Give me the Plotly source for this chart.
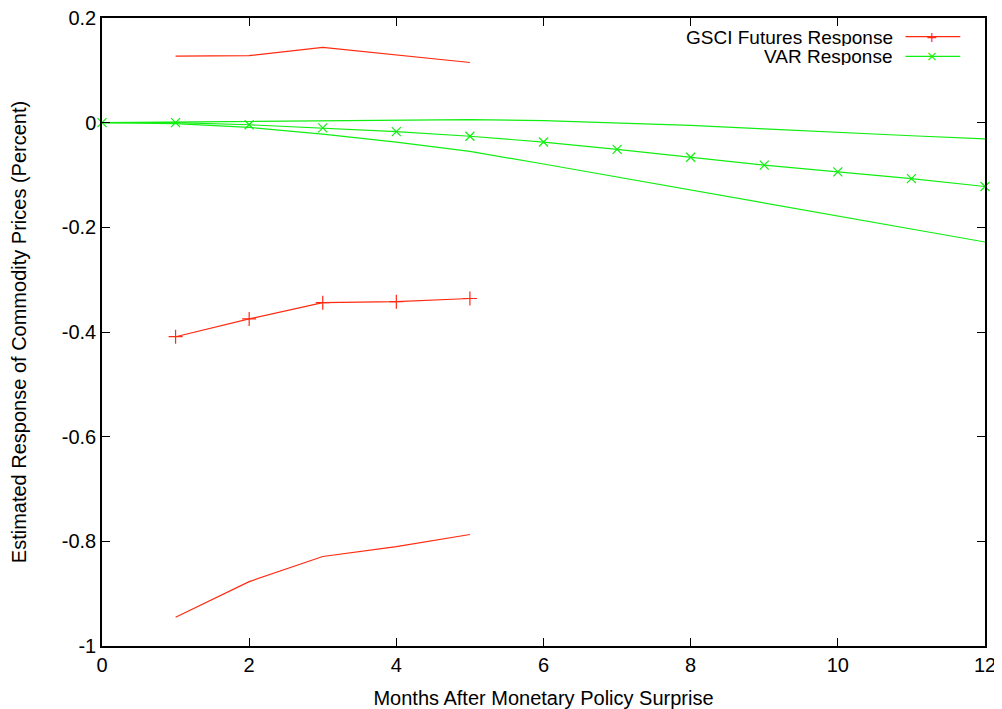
import plotly.graph_objects as go

months_gsci = [1, 2, 3, 4, 5]
gsci_upper = [0.127, 0.128, 0.144, 0.129, 0.115]
gsci_mid = [-0.409, -0.375, -0.344, -0.342, -0.336]
gsci_lower = [-0.945, -0.877, -0.829, -0.810, -0.787]

months_var = [0, 1, 2, 3, 4, 5, 6, 7, 8, 9, 10, 11, 12]
var_upper = [0.0, 0.001, 0.003, 0.004, 0.005, 0.006, 0.004, 0.0, -0.005, -0.012, -0.019, -0.025, -0.031]
var_mid = [0.0, 0.0, -0.004, -0.010, -0.017, -0.026, -0.037, -0.051, -0.066, -0.081, -0.094, -0.107, -0.122]
var_lower = [0.0, -0.002, -0.009, -0.022, -0.037, -0.055, -0.079, -0.104, -0.129, -0.154, -0.179, -0.204, -0.228]

x_ticks = [0, 2, 4, 6, 8, 10, 12]
y_ticks = [0.2, 0, -0.2, -0.4, -0.6, -0.8, -1]
y_tick_text = ["0.2", "0", "-0.2", "-0.4", "-0.6", "-0.8", "-1"]

RED = "#ff2a10"
GREEN = "#11ee11"
FONT = "Liberation Sans"
FS = 20

fig = go.Figure()
fig.add_trace(go.Scatter(x=months_gsci, y=gsci_upper, mode="lines",
                         line=dict(color=RED, width=1.2), showlegend=False))
fig.add_trace(go.Scatter(x=months_gsci, y=gsci_mid, mode="lines+markers",
                         line=dict(color=RED, width=1.2),
                         marker=dict(symbol="cross-thin", size=10, line=dict(color=RED, width=1.2)),
                         showlegend=False))
fig.add_trace(go.Scatter(x=months_gsci, y=gsci_lower, mode="lines",
                         line=dict(color=RED, width=1.2), showlegend=False))
fig.add_trace(go.Scatter(x=months_var, y=var_upper, mode="lines",
                         line=dict(color=GREEN, width=1.2), showlegend=False))
fig.add_trace(go.Scatter(x=months_var, y=var_mid, mode="lines+markers",
                         line=dict(color=GREEN, width=1.2),
                         marker=dict(symbol="x-thin", size=9, line=dict(color=GREEN, width=1.2)),
                         showlegend=False, cliponaxis=False))
fig.add_trace(go.Scatter(x=months_var, y=var_lower, mode="lines",
                         line=dict(color=GREEN, width=1.2), showlegend=False))

# gnuplot-style legend (text right-aligned, sample line on the right)
legend_items = [("GSCI Futures Response", RED, "+"), ("VAR Response", GREEN, "×")]
leg_y = [0.9705, 0.939]
for (label, col, glyph), yy in zip(legend_items, leg_y):
    fig.add_annotation(xref="paper", yref="paper", x=0.897, y=yy, text=label,
                       showarrow=False, xanchor="right", yanchor="middle",
                       height=18, borderpad=0,
                       font=dict(family=FONT, size=19, color="black"))
    fig.add_shape(type="line", xref="paper", yref="paper", x0=0.910, x1=0.972,
                  y0=yy, y1=yy, line=dict(color=col, width=1.2))
    fig.add_annotation(xref="paper", yref="paper", x=0.940, y=yy, text=glyph,
                       showarrow=False, xanchor="center", yanchor="middle",
                       height=14, borderpad=0,
                       font=dict(family="DejaVu Sans", size=14, color=col))

fig.update_layout(
    width=994, height=701,
    margin=dict(l=94, r=17, t=10, b=63),
    plot_bgcolor="white", paper_bgcolor="white",
    font=dict(family=FONT, size=FS, color="black"),
)
fig.update_xaxes(range=[0, 12], tickvals=x_ticks, ticks="inside", ticklen=8,
                 tickcolor="black", showline=True, linecolor="black", linewidth=1.5,
                 mirror="allticks", showgrid=False, zeroline=False, automargin=False,
                 ticklabeloverflow="allow",
                 title=dict(text="Months After Monetary Policy Surprise", standoff=16,
                            font=dict(family=FONT, size=FS)),
                 tickfont=dict(family=FONT, size=FS))
fig.update_yaxes(range=[-1, 0.2], tickvals=y_ticks, ticktext=y_tick_text, ticks="inside",
                 ticklen=8, tickcolor="black", showline=True, linecolor="black",
                 linewidth=1.5, mirror="allticks", showgrid=False, zeroline=False,
                 automargin=False, ticklabeloverflow="allow",
                 title=dict(text="Estimated Response of Commodity Prices (Percent)", standoff=30,
                            font=dict(family=FONT, size=FS)),
                 tickfont=dict(family=FONT, size=FS))

fig.write_html("out.html")
